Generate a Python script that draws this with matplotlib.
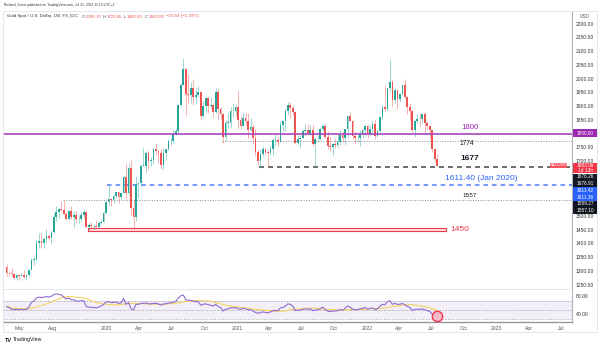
import numpy as np
import pandas as pd
import matplotlib
matplotlib.use("Agg")
import matplotlib.pyplot as plt
import matplotlib.dates as mdates
from matplotlib.colors import to_rgba
from matplotlib.patches import Rectangle

plt.rcParams['font.family'] = ['Liberation Sans', 'DejaVu Sans']

W, H = 601, 346

# weekly XAU/USD candles, first week starts 2019-03-25
first_open = 1313
closes = [1292, 1291, 1290, 1276, 1286, 1280, 1286, 1277, 1284, 1305, 1341, 1341, 1400, 1409, 1400, 1415,
          1426, 1419, 1440, 1497, 1513, 1527, 1520, 1507, 1488, 1517, 1497, 1505, 1489, 1490, 1505, 1514,
          1459, 1468, 1462, 1464, 1460, 1476, 1478, 1510, 1552,
          1562, 1557, 1571, 1589, 1570, 1584, 1643, 1585, 1674, 1530, 1498, 1617, 1620, 1683, 1683, 1728,
          1700, 1702, 1743, 1735, 1730, 1685, 1730, 1743, 1771, 1774, 1798, 1810, 1902, 1975, 2035, 1944,
          1940, 1964, 1933, 1940, 1950, 1862, 1900, 1930, 1899, 1902, 1879, 1951, 1889, 1871, 1788, 1839,
          1839, 1881, 1883, 1898,
          1850, 1828, 1856, 1847, 1813, 1824, 1784, 1734, 1700, 1727, 1745, 1733, 1728, 1744, 1777, 1777,
          1769, 1831, 1844, 1881, 1905, 1892, 1877, 1764, 1781, 1783, 1808, 1812, 1802, 1814, 1763, 1780,
          1781, 1818, 1827, 1788, 1754, 1750, 1761, 1757, 1768, 1793, 1783, 1818, 1864, 1846, 1792, 1783,
          1783, 1798, 1811, 1829,
          1797, 1818, 1835, 1791, 1808, 1860, 1898, 1889, 1966, 1988, 1921, 1958, 1925, 1945, 1975, 1931,
          1896, 1883, 1811, 1846, 1853, 1851, 1871, 1840, 1827, 1811, 1742, 1706.70, 1683.06]
highs = [1326, 1299, 1311, 1294, 1288, 1290, 1291, 1303, 1286, 1306, 1348, 1358, 1411, 1439, 1437, 1425,
         1453, 1434, 1450, 1510, 1535, 1530, 1555, 1557, 1516, 1523, 1535, 1519, 1517, 1499, 1518, 1520,
         1517, 1474, 1478, 1470, 1485, 1482, 1486, 1514, 1553,
         1611, 1563, 1575, 1589, 1592, 1585, 1649, 1690, 1692, 1704, 1561, 1645, 1625, 1690, 1747, 1738,
         1736, 1715, 1748, 1765, 1740, 1745, 1745, 1745, 1779, 1789, 1818, 1815, 1908, 1984, 2075, 2040,
         2015, 1986, 2000, 1966, 1973, 1952, 1917, 1932, 1933, 1933, 1911, 1965, 1966, 1898, 1875, 1848,
         1875, 1897, 1906, 1902,
         1959, 1864, 1875, 1875, 1875, 1855, 1830, 1816, 1739, 1739, 1755, 1745, 1740, 1759, 1785, 1797,
         1790, 1844, 1846, 1890, 1913, 1916, 1903, 1878, 1795, 1795, 1818, 1834, 1833, 1832, 1832, 1782,
         1795, 1823, 1834, 1836, 1809, 1787, 1765, 1781, 1801, 1814, 1810, 1818, 1868, 1877, 1849, 1808,
         1793, 1814, 1815, 1831,
         1831, 1830, 1848, 1854, 1815, 1865, 1902, 1974, 1966, 2070, 1993, 1966, 1960, 1948, 1979, 1998,
         1936, 1910, 1885, 1849, 1870, 1874, 1876, 1879, 1847, 1830, 1813, 1745, 1723.85]
lows = [1281, 1280, 1281, 1270, 1266, 1267, 1280, 1274, 1266, 1280, 1305, 1322, 1340, 1382, 1382, 1385,
        1402, 1412, 1400, 1438, 1480, 1492, 1518, 1506, 1485, 1484, 1489, 1459, 1474, 1473, 1479, 1488,
        1456, 1445, 1456, 1452, 1459, 1456, 1472, 1477, 1508,
        1535, 1536, 1546, 1564, 1548, 1563, 1582, 1563, 1576, 1504, 1451, 1483, 1567, 1610, 1680, 1660,
        1672, 1681, 1690, 1720, 1692, 1670, 1671, 1705, 1741, 1757, 1764, 1795, 1802, 1901, 1975, 1863,
        1912, 1911, 1902, 1907, 1931, 1848, 1859, 1874, 1874, 1893, 1860, 1876, 1850, 1854, 1764, 1774,
        1820, 1823, 1855, 1862,
        1816, 1817, 1828, 1831, 1785, 1808, 1761, 1717, 1687, 1676, 1719, 1722, 1677, 1721, 1723, 1760,
        1756, 1768, 1808, 1808, 1868, 1855, 1866, 1761, 1761, 1750, 1783, 1791, 1794, 1790, 1753, 1677,
        1770, 1777, 1809, 1782, 1742, 1737, 1721, 1746, 1750, 1760, 1770, 1758, 1782, 1844, 1779, 1762,
        1769, 1753, 1785, 1790,
        1782, 1790, 1804, 1780, 1788, 1807, 1850, 1878, 1882, 1950, 1895, 1910, 1890, 1915, 1939, 1930,
        1872, 1850, 1807, 1786, 1837, 1829, 1837, 1805, 1816, 1784, 1732, 1697, 1682.65]
rsi = [57, 55, 51, 50, 51, 50, 51, 50, 51, 56,
       66, 70, 76, 78, 77, 78, 79, 78, 80, 84,
       85, 84, 83, 78, 74, 76, 72, 72, 69, 69,
       70, 70, 57, 56, 55, 55, 54, 56, 58, 62,
       67, 68, 66, 66, 67, 64, 65, 75, 62, 66,
       52, 50, 62, 62, 64, 64, 65, 63, 63, 64,
       64, 63, 60, 63, 63, 65, 65, 67, 68, 76,
       81, 83, 72, 71, 71, 69, 68, 68, 60, 62,
       63, 61, 60, 58, 62, 57, 55, 47, 51, 52,
       54, 54, 55, 52, 51, 53, 52, 50, 50, 47,
       44, 42, 44, 45, 44, 43, 45, 48, 48, 48,
       54, 55, 58, 63, 62, 58, 48, 49, 49, 51,
       52, 51, 52, 48, 49, 50, 52, 56, 50, 47,
       46, 47, 47, 48, 50, 49, 53, 58, 56, 51,
       50, 50, 52, 53, 55, 51, 53, 54, 50, 52,
       58, 62, 61, 68, 70, 62, 64, 62, 62, 64,
       61, 57, 55, 48, 51, 51, 51, 52, 50, 48,
       46, 40, 36, 33]

dates = pd.date_range("2019-03-25", periods=len(closes), freq="7D")
opens = [first_open] + closes[:-1]   # weekly open = previous close

tick_dates = ["2019-05-01", "2019-08-01", "2020-01-01", "2020-04-01", "2020-07-01", "2020-10-01",
              "2021-01-01", "2021-04-01", "2021-07-01", "2021-10-01", "2022-01-01", "2022-04-01",
              "2022-07-01", "2022-10-01", "2023-01-01", "2023-04-01", "2023-07-01"]
tick_labels = ["May", "Aug", "2020", "Apr", "Jul", "Oct", "2021", "Apr", "Jul", "Oct",
               "2022", "Apr", "Jul", "Oct", "2023", "Apr", "Jul"]
# price ticks that are not hidden behind the axis tags
price_ticks = [1250, 1300, 1350, 1400, 1450, 1500, 1700, 1750, 1850, 1900,
               1950, 2000, 2050, 2100, 2150, 2200]

UP, DOWN = '#26a69a', '#ef5350'


def box(l, t, r, b):
    return [l / W, 1 - b / H, (r - l) / W, (b - t) / H]


fig = plt.figure(figsize=(W / 100, H / 100), dpi=100)
ax = fig.add_axes(box(3, 11, 572, 289))
ax2 = fig.add_axes(box(3, 290, 572, 322), sharex=ax)

x0, x1 = pd.Timestamp("2019-03-15"), pd.Timestamp("2023-08-01")

# candles
o = np.array(opens, dtype=float)
c = np.array(closes, dtype=float)
up = c >= o
cols = [UP if u else DOWN for u in up]
ax.vlines(dates, lows, highs, colors=[to_rgba(cc, 0.45) for cc in cols], lw=0.7, zorder=2)
ax.bar(dates, np.maximum(np.abs(c - o), 1.2), bottom=np.minimum(o, c), width=4.8,
       color=cols, linewidth=0, zorder=3)

# levels
ax.axhline(1800, color='#ab47bc', lw=1.2, zorder=4)
ax.hlines(1774, pd.Timestamp("2020-11-19"), x1, colors='#8a8d96', lw=0.7, linestyles=(0, (1, 1.6)), zorder=1)
ax.hlines(1677, pd.Timestamp("2021-03-05"), x1, colors='#555555', lw=1.2, linestyles=(0, (3, 2.4)), zorder=1)
ax.hlines(1611.40, pd.Timestamp("2020-01-02"), x1, colors='#4f7dfb', lw=1.1, linestyles=(0, (3, 2.6)), zorder=1)
ax.hlines(1557, pd.Timestamp("2019-08-30"), x1, colors='#8a8d96', lw=0.7, linestyles=(0, (1, 1.6)), zorder=1)
s, e = mdates.date2num(pd.Timestamp("2019-11-08")), mdates.date2num(pd.Timestamp("2022-08-13"))
ax.add_patch(Rectangle((s, 1447), e - s, 10, facecolor='#fde3e6', edgecolor='#f23645', lw=0.8, zorder=1))

tr = ax.get_yaxis_transform()
ax.text(0.821, 1822, "1800", transform=tr, color='#9c27b0', fontsize=5.6, ha='center', va='center')
ax.text(0.816, 1763, "1774", transform=tr, color='#131722', fontsize=4.8, ha='center', va='center')
ax.text(0.821, 1709, "1677", transform=tr, color='#131722', fontsize=6, fontweight='bold', ha='center', va='center')
ax.text(0.841, 1636, "1611.40 (Jan 2020)", transform=tr, color='#2962ff', fontsize=6, ha='center', va='center')
ax.text(0.821, 1573, "1557", transform=tr, color='#131722', fontsize=4.6, ha='center', va='center')
ax.text(0.802, 1452, "1450", transform=tr, color='#f23645', fontsize=6, ha='center', va='center')

ax.set_xlim(x0, x1)
ax.set_ylim(1234.5, 2245.5)
ax.yaxis.tick_right()
ax.set_yticks(price_ticks)
ax.set_yticklabels([f"{v:.2f}" for v in price_ticks])
ax.tick_params(axis='y', length=0, pad=2.9, labelsize=3.6, labelcolor='#333333')
ax.tick_params(axis='x', length=0, labelbottom=False)
for sp in ['left', 'top']:
    ax.spines[sp].set_visible(False)
ax.spines['right'].set_color('#b2b5be')
ax.spines['right'].set_linewidth(0.8)
ax.spines['bottom'].set_color('#e0e3eb')
ax.spines['bottom'].set_linewidth(0.6)

# RSI panel
ax2.axhspan(30, 70, color='#7e57c2', alpha=0.09, lw=0)
for lvl in (70, 50, 30):
    ax2.axhline(lvl, color='#9598a1', lw=0.5, linestyle=(0, (2, 2)))
rsi_ma = pd.Series(rsi).rolling(14, min_periods=1).mean()
ax2.plot(dates, rsi_ma, color='#f5d35f', lw=0.8)
ax2.plot(dates, rsi, color='#8e6ad0', lw=0.8)
ax2.scatter([dates[-1]], [rsi[-1] + 3], s=55, facecolor='#f6bccb', edgecolor='#f23645', lw=1, zorder=5)
ax2.set_ylim(22.7, 93.8)
ax2.yaxis.tick_right()
ax2.set_yticks([40, 80])
ax2.set_yticklabels(["40.00", "80.00"])
ax2.tick_params(axis='y', length=0, pad=2.9, labelsize=3.6, labelcolor='#333333')
ax2.set_xticks([pd.Timestamp(d) for d in tick_dates])
ax2.set_xticklabels(tick_labels)
ax2.tick_params(axis='x', length=0, pad=2.6, labelsize=3.6, labelcolor='#555555')
for sp in ['left', 'top']:
    ax2.spines[sp].set_visible(False)
ax2.spines['right'].set_color('#b2b5be')
ax2.spines['right'].set_linewidth(0.8)
ax2.spines['bottom'].set_color('#9598a1')
ax2.spines['bottom'].set_linewidth(1.0)
ax2.set_xlim(x0, x1)

# outer frame
fig.add_artist(Rectangle((3 / W, 1 - 332 / H), 594 / W, 321 / H, transform=fig.transFigure,
                         fill=False, edgecolor='#e0e3eb', lw=0.6))


def tag(top, bottom, bg, lines, left=573, right=597, size=3.4):
    fig.add_artist(Rectangle((left / W, 1 - bottom / H), (right - left) / W, (bottom - top) / H,
                             transform=fig.transFigure, facecolor=bg, edgecolor='none', zorder=5))
    n = len(lines)
    for k, txt in enumerate(lines):
        yc = top + (bottom - top) * (k + 0.5) / n
        fig.text((left + right) / 2 / W, 1 - yc / H, txt, color='white', fontsize=size,
                 ha='center', va='center', zorder=6)


tag(129.5, 137, '#9c27b0', ["1800.00"])
tag(162.5, 168, '#f7525f', ["XAUUSD"], left=550, right=567, size=3.1)
tag(163, 173.5, '#f23645', ["1683.06", "1d 13h"])
tag(173.5, 187, '#131722', ["1678.26", "1676.91"])
tag(187, 200.5, '#2962ff', ["1611.42", "1611.36"])
tag(200.5, 213.5, '#131722', ["1559.27", "1557.10"])

fig.text(580 / W, 1 - 16 / H, "USD", fontsize=3.4, color='#555555', va='center')

# header
fig.text(4 / W, 1 - 5 / H, "Richard_Snow published on TradingView.com, Jul 21, 2022 11:13 UTC+2",
         fontsize=2.4, color='#333333', va='center')
r = fig.canvas.get_renderer()
parts = [("Gold Spot / U.S. Dollar, 1W, FX_IDC", '#333333', 3.5), ("O", '#555555', 0.4),
         ("1706.70", DOWN, 2.0), ("H", '#555555', 0.4), ("1723.85", DOWN, 2.0),
         ("L", '#555555', 0.4), ("1682.65", DOWN, 2.0), ("C", '#555555', 0.4),
         ("1683.06", DOWN, 2.0), ("\u221223.64 (\u22121.39%)", DOWN, 0)]
xp = 7
for txt, col, gap in parts:
    t = fig.text(xp / W, 1 - 16.5 / H, txt, fontsize=3.2, color=col, va='center')
    xp += t.get_window_extent(renderer=r).width + gap

# footer logo
fig.text(5 / W, 1 - 340 / H, "TV", fontsize=4, fontweight='bold', color='#131722', va='center')
fig.text(13 / W, 1 - 340 / H, "TradingView", fontsize=3.8, color='#131722', va='center')

fig.savefig("out.png", dpi=100)
